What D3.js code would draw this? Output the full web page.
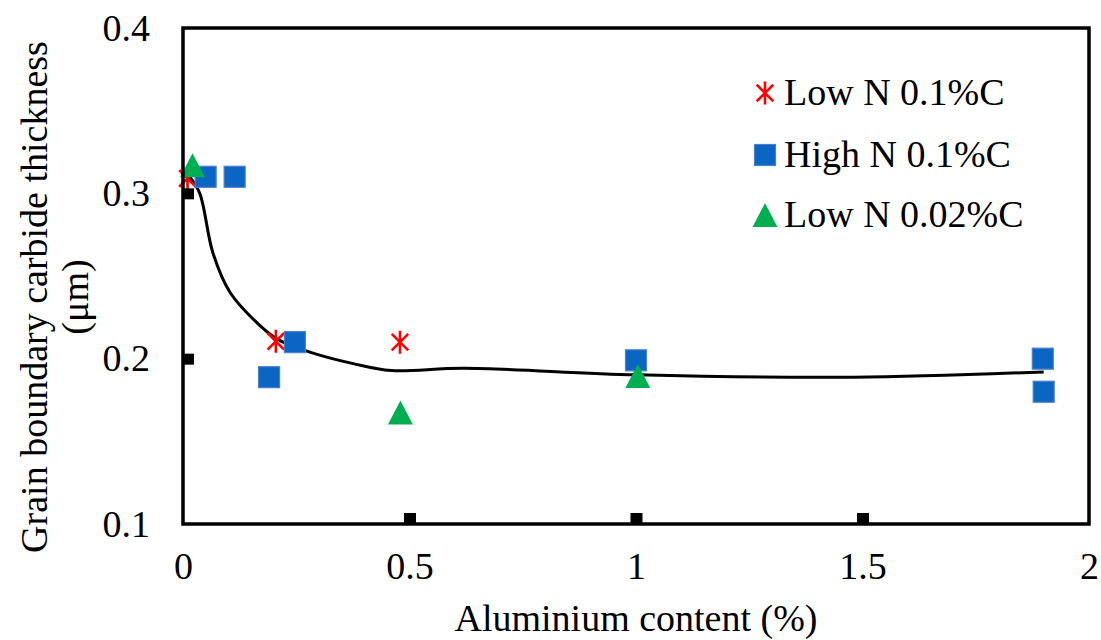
<!DOCTYPE html>
<html>
<head>
<meta charset="utf-8">
<script src="https://cdn.jsdelivr.net/npm/d3@7"></script>
<style>
    body { margin: 0; background: #ffffff; }
    svg text { font-family: "Liberation Serif", Tinos, "Times New Roman", "DejaVu Serif", serif !important; fill: #000; }
</style>
</head>
<body>
<svg id="chart" width="1101" height="640"></svg>
<script>

// Low N 0.1%C (red asterisks)
let lowN01X = [0.01, 0.205, 0.479];
let lowN01Y = [0.309, 0.2105, 0.21];

// High N 0.1%C (blue squares)
let highN01X = [0.05, 0.114, 0.19, 0.247, 1.0, 1.898, 1.9];
let highN01Y = [0.31, 0.31, 0.1888, 0.21, 0.199, 0.2, 0.18];

// Low N 0.02%C (green triangles)
let lowN002X = [0.021, 0.48, 1.004];
let lowN002Y = [0.317, 0.1675, 0.1895];

// Smoothed trend line
let trendX = [0.015, 0.037, 0.066, 0.104, 0.17, 0.21, 0.28, 0.376, 0.46, 0.62, 1.0, 1.48, 1.9];
let trendY = [0.31, 0.30, 0.264, 0.24, 0.22, 0.2115, 0.204, 0.197, 0.1928, 0.1942, 0.1902, 0.1888, 0.192];

let xTicks = [0, 0.5, 1, 1.5, 2];
let yTicks = [0.1, 0.2, 0.3, 0.4];
let xInnerTicks = [0.5, 1, 1.5];
let yInnerTicks = [0.2, 0.3];

let legendNames = ["Low N 0.1%C", "High N 0.1%C", "Low N 0.02%C"];

let chart = {
    left: 183, right: 1089, top: 28, bottom: 524
};
let serif = "'Liberation Serif', Tinos, 'Times New Roman', 'DejaVu Serif', serif";

let svg = d3.select("#chart");

let x = d3.scaleLinear().domain([0, 2]).range([chart.left, chart.right]);
let y = d3.scaleLinear().domain([0.1, 0.4]).range([chart.bottom, chart.top]);

// Trend line (drawn under the markers)
let trend = trendX.map(function (v, i) { return {x: v, y: trendY[i]}; });
svg.append("path")
    .datum(trend)
    .attr("fill", "none")
    .attr("stroke", "#000")
    .attr("stroke-width", 3)
    .attr("d", d3.line()
        .x(function (d) { return x(d.x); })
        .y(function (d) { return y(d.y); })
        .curve(d3.curveCatmullRom.alpha(0.5)));

// Marker drawing helpers, centred on the bounding box like Excel markers
function drawAsterisk(g, cx, cy) {
    let s = 11.5;
    let d = s * 0.72;
    g.append("path")
        .attr("d", "M" + cx + "," + (cy - s) + "L" + cx + "," + (cy + s) +
            "M" + (cx - d) + "," + (cy - d) + "L" + (cx + d) + "," + (cy + d) +
            "M" + (cx + d) + "," + (cy - d) + "L" + (cx - d) + "," + (cy + d))
        .attr("stroke", "#ff0000")
        .attr("stroke-width", 2.6)
        .attr("fill", "none");
}

function drawSquare(g, cx, cy) {
    g.append("rect")
        .attr("x", cx - 10.5)
        .attr("y", cy - 10.5)
        .attr("width", 21)
        .attr("height", 21)
        .attr("fill", "#0a66c2")
        .attr("stroke", "#4a7fd0")
        .attr("stroke-width", 1.2);
}

function drawTriangle(g, cx, cy) {
    let w = 12.5, h = 12;
    g.append("path")
        .attr("d", "M" + cx + "," + (cy - h) + "L" + (cx + w) + "," + (cy + h) + "L" + (cx - w) + "," + (cy + h) + "Z")
        .attr("fill", "#00b050");
}

let marks = svg.append("g");
lowN01X.forEach(function (v, i) { drawAsterisk(marks, x(v), y(lowN01Y[i])); });
highN01X.forEach(function (v, i) { drawSquare(marks, x(v), y(highN01Y[i])); });
lowN002X.forEach(function (v, i) { drawTriangle(marks, x(v), y(lowN002Y[i])); });

// Inner tick marks
svg.append("g")
    .attr("transform", "translate(0," + chart.bottom + ")")
    .call(d3.axisBottom(x).tickValues(xInnerTicks).tickSize(-11).tickFormat(""))
    .call(function (g) { g.select(".domain").remove(); })
    .selectAll("line").attr("stroke", "#000").attr("stroke-width", 12);

svg.append("g")
    .attr("transform", "translate(" + chart.left + ",0)")
    .call(d3.axisLeft(y).tickValues(yInnerTicks).tickSize(-11).tickFormat(""))
    .call(function (g) { g.select(".domain").remove(); })
    .selectAll("line").attr("stroke", "#000").attr("stroke-width", 11);

// Frame
svg.append("rect")
    .attr("x", chart.left)
    .attr("y", chart.top)
    .attr("width", chart.right - chart.left)
    .attr("height", chart.bottom - chart.top)
    .attr("fill", "none")
    .attr("stroke", "#000")
    .attr("stroke-width", 3.5);

// Tick labels
let xAxis = svg.append("g")
    .attr("transform", "translate(0," + chart.bottom + ")")
    .attr("font-family", serif)
    .call(d3.axisBottom(x).tickValues(xTicks).tickSize(0).tickPadding(28)
        .tickFormat(function (d) { return String(d); }));
xAxis.attr("font-family", serif).attr("font-size", 38);
xAxis.select(".domain").remove();
xAxis.selectAll("text").attr("fill", "#000");

let yAxis = svg.append("g")
    .attr("transform", "translate(" + chart.left + ",0)")
    .call(d3.axisLeft(y).tickValues(yTicks).tickSize(0).tickPadding(33)
        .tickFormat(d3.format(".1f")));
yAxis.attr("font-family", serif).attr("font-size", 38);
yAxis.select(".domain").remove();
yAxis.selectAll("text").attr("fill", "#000");

// Axis titles
svg.append("text")
    .attr("x", (chart.left + chart.right) / 2)
    .attr("y", 631)
    .attr("text-anchor", "middle")
    .attr("font-family", serif)
    .attr("font-size", 38)
    .text("Aluminium content (%)");

let yTitle = svg.append("text")
    .attr("transform", "translate(47,297) rotate(-90)")
    .attr("text-anchor", "middle")
    .attr("font-family", serif)
    .attr("font-size", 38);
yTitle.append("tspan").attr("x", 0).attr("y", 0).text("Grain boundary carbide thickness");
yTitle.append("tspan").attr("x", 0).attr("y", 41).text("(μm)");

// Legend
let legendY = [93, 155, 215];
let legend = svg.append("g");
drawAsterisk(legend, 765, legendY[0]);
drawSquare(legend, 765, legendY[1]);
drawTriangle(legend, 765, legendY[2]);
legendNames.forEach(function (name, i) {
    legend.append("text")
        .attr("x", 784)
        .attr("y", legendY[i] + 12)
        .attr("font-family", serif)
        .attr("font-size", 38)
        .text(name);
});

</script>
</body>
</html>
